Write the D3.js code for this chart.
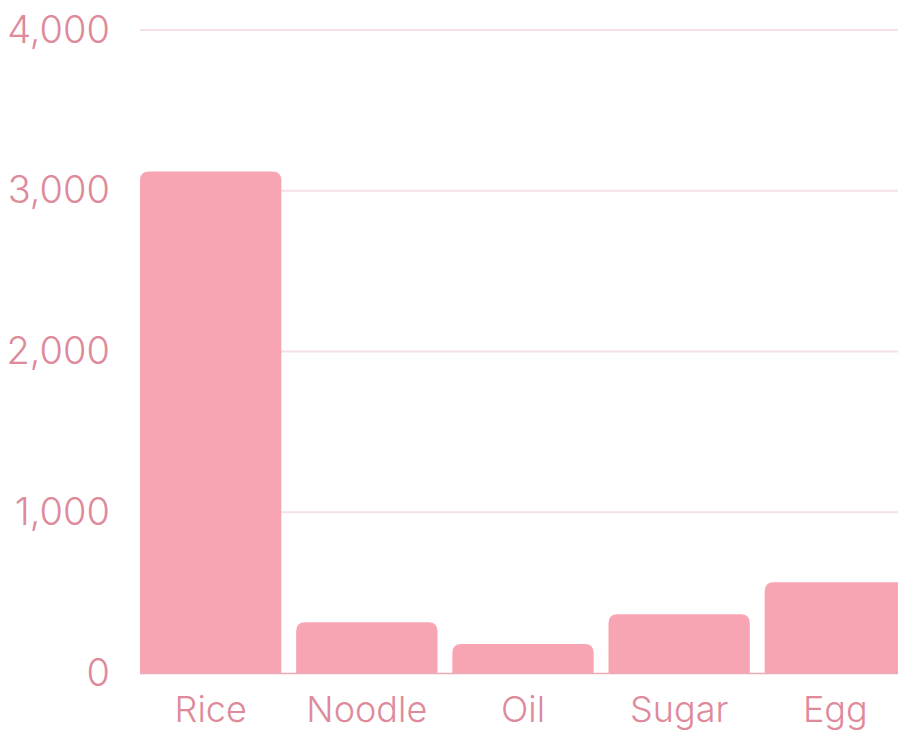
<!DOCTYPE html>
<html lang="en">
<head>
    <meta charset="UTF-8">
    <title>Bar chart</title>
    <script src="https://d3js.org/d3.v7.min.js"></script>
    <style>
        body { margin: 0; background: #fff; }
        svg { display: block; overflow: hidden; }
        text { font-family: Inter, "DejaVu Sans", sans-serif; }
    </style>
</head>
<body>
    <svg width="898" height="733"></svg>
    <script>
        const categories = ['Rice', 'Noodle', 'Oil', 'Sugar', 'Egg'];
        const values = [3120, 315, 180, 365, 565];
        const yTicks = [0, 1000, 2000, 3000, 4000];

        const svg = d3.select('svg');
        const margin = { top: 30, left: 140, bottom: 60 };
        const plotWidth = 766;
        const plotBottom = 673;

        const x = d3.scaleBand()
            .domain(categories)
            .range([margin.left, margin.left + plotWidth])
            .paddingInner(0.095)
            .paddingOuter(0);
        const y = d3.scaleLinear().domain([0, 4000]).range([plotBottom, margin.top]);

        const textColor = '#de8a9b';

        // gridlines
        svg.append('g')
            .selectAll('line')
            .data(yTicks.filter(d => d > 0))
            .enter()
            .append('line')
            .attr('x1', margin.left)
            .attr('x2', margin.left + plotWidth)
            .attr('y1', d => y(d))
            .attr('y2', d => y(d))
            .attr('stroke', '#f5e0e7')
            .attr('stroke-width', 2);

        // y axis labels
        const yAxis = svg.append('g')
            .attr('transform', `translate(${margin.left},0)`)
            .call(d3.axisLeft(y).tickValues(yTicks).tickSize(0).tickPadding(30).tickFormat(d3.format(',')));
        yAxis.select('.domain').remove();
        yAxis.selectAll('text')
            .attr('fill', textColor)
            .attr('font-size', 38)
            .attr('font-weight', 300)
            .attr('font-family', 'Inter, sans-serif');

        // bars with rounded top corners
        const r = 9;
        svg.append('g')
            .selectAll('path')
            .data(categories.map((c, i) => ({ c, v: values[i] })))
            .enter()
            .append('path')
            .attr('fill', '#f7a5b3')
            .attr('d', d => {
                const x0 = x(d.c), x1 = x0 + x.bandwidth();
                const y0 = y(0), y1 = y(d.v);
                return `M${x0},${y0}V${y1 + r}Q${x0},${y1} ${x0 + r},${y1}H${x1 - r}Q${x1},${y1} ${x1},${y1 + r}V${y0}Z`;
            });

        // baseline
        svg.append('line')
            .attr('x1', margin.left)
            .attr('x2', margin.left + plotWidth)
            .attr('y1', y(0) + 0.5)
            .attr('y2', y(0) + 0.5)
            .attr('stroke', '#eaaab8')
            .attr('stroke-width', 1.5);

        // x axis labels
        const xAxis = svg.append('g')
            .attr('transform', `translate(0,${plotBottom})`)
            .call(d3.axisBottom(x).tickSize(0).tickPadding(23));
        xAxis.select('.domain').remove();
        xAxis.selectAll('text')
            .attr('fill', textColor)
            .attr('font-size', 36)
            .attr('font-weight', 300)
            .attr('font-family', 'Inter, sans-serif');
    </script>
</body>
</html>
